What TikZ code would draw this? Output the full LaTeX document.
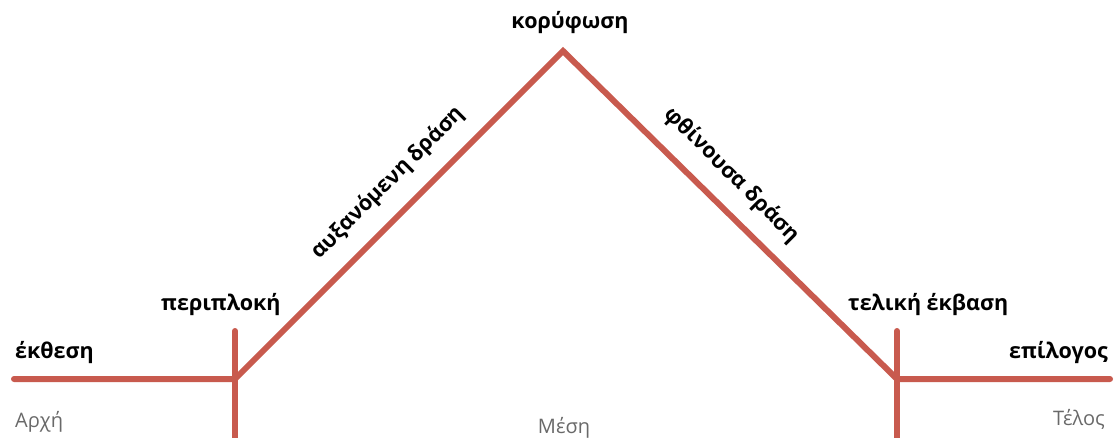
\documentclass[tikz,border=0pt]{standalone}
\usepackage{fontspec}
\setmainfont{Open Sans}
\definecolor{arc}{RGB}{200,90,78}
\definecolor{lbl}{RGB}{105,105,105}
\begin{document}
\begin{tikzpicture}[x=1pt,y=-1pt,
  arcline/.style={draw=arc,line width=6pt,line cap=round,line join=miter},
  stage/.style={font=\fontsize{21.5}{24}\selectfont\bfseries,text=black,inner sep=0pt},
  part/.style={font=\fontsize{20}{24}\selectfont,text=lbl,inner sep=0pt}]
\useasboundingbox (0,0) rectangle (1118,438);
\coordinate (L) at (14,379);
\coordinate (A) at (235,379);
\coordinate (P) at (563,51);
\coordinate (B) at (897,379);
\coordinate (R) at (1110,379);
\coordinate (Atop) at (235,331);
\coordinate (Abot) at (235,445);
\coordinate (Btop) at (897,331);
\coordinate (Bbot) at (897,445);
\draw[arcline] (L) -- (A) -- (P) -- (B) -- (R);
\draw[arcline] (Atop) -- (Abot);
\draw[arcline] (Btop) -- (Bbot);
\node[stage,anchor=base west] (ekthesi) at (15,358) {έκθεση};
\node[stage,anchor=base west] (periploki) at (161,310) {περιπλοκή};
\node[stage,anchor=base] (koryfosi) at (570,29) {κορύφωση};
\node[stage,anchor=base west] (teliki) at (848,310) {τελική έκβαση};
\node[stage,anchor=base east] (epilogos) at (1108,358) {επίλογος};
\node[stage,rotate=45] (afx) at (388,183) {αυξανόμενη δράση};
\node[stage,rotate=-45] (fth) at (732,175) {φθίνουσα δράση};
\node[part,anchor=base west] (arxi) at (15,427) {Αρχή};
\node[part,anchor=base] (mesi) at (564,433) {Μέση};
\node[part,anchor=base east] (telos) at (1105,425) {Τέλος};
\end{tikzpicture}
\end{document}
